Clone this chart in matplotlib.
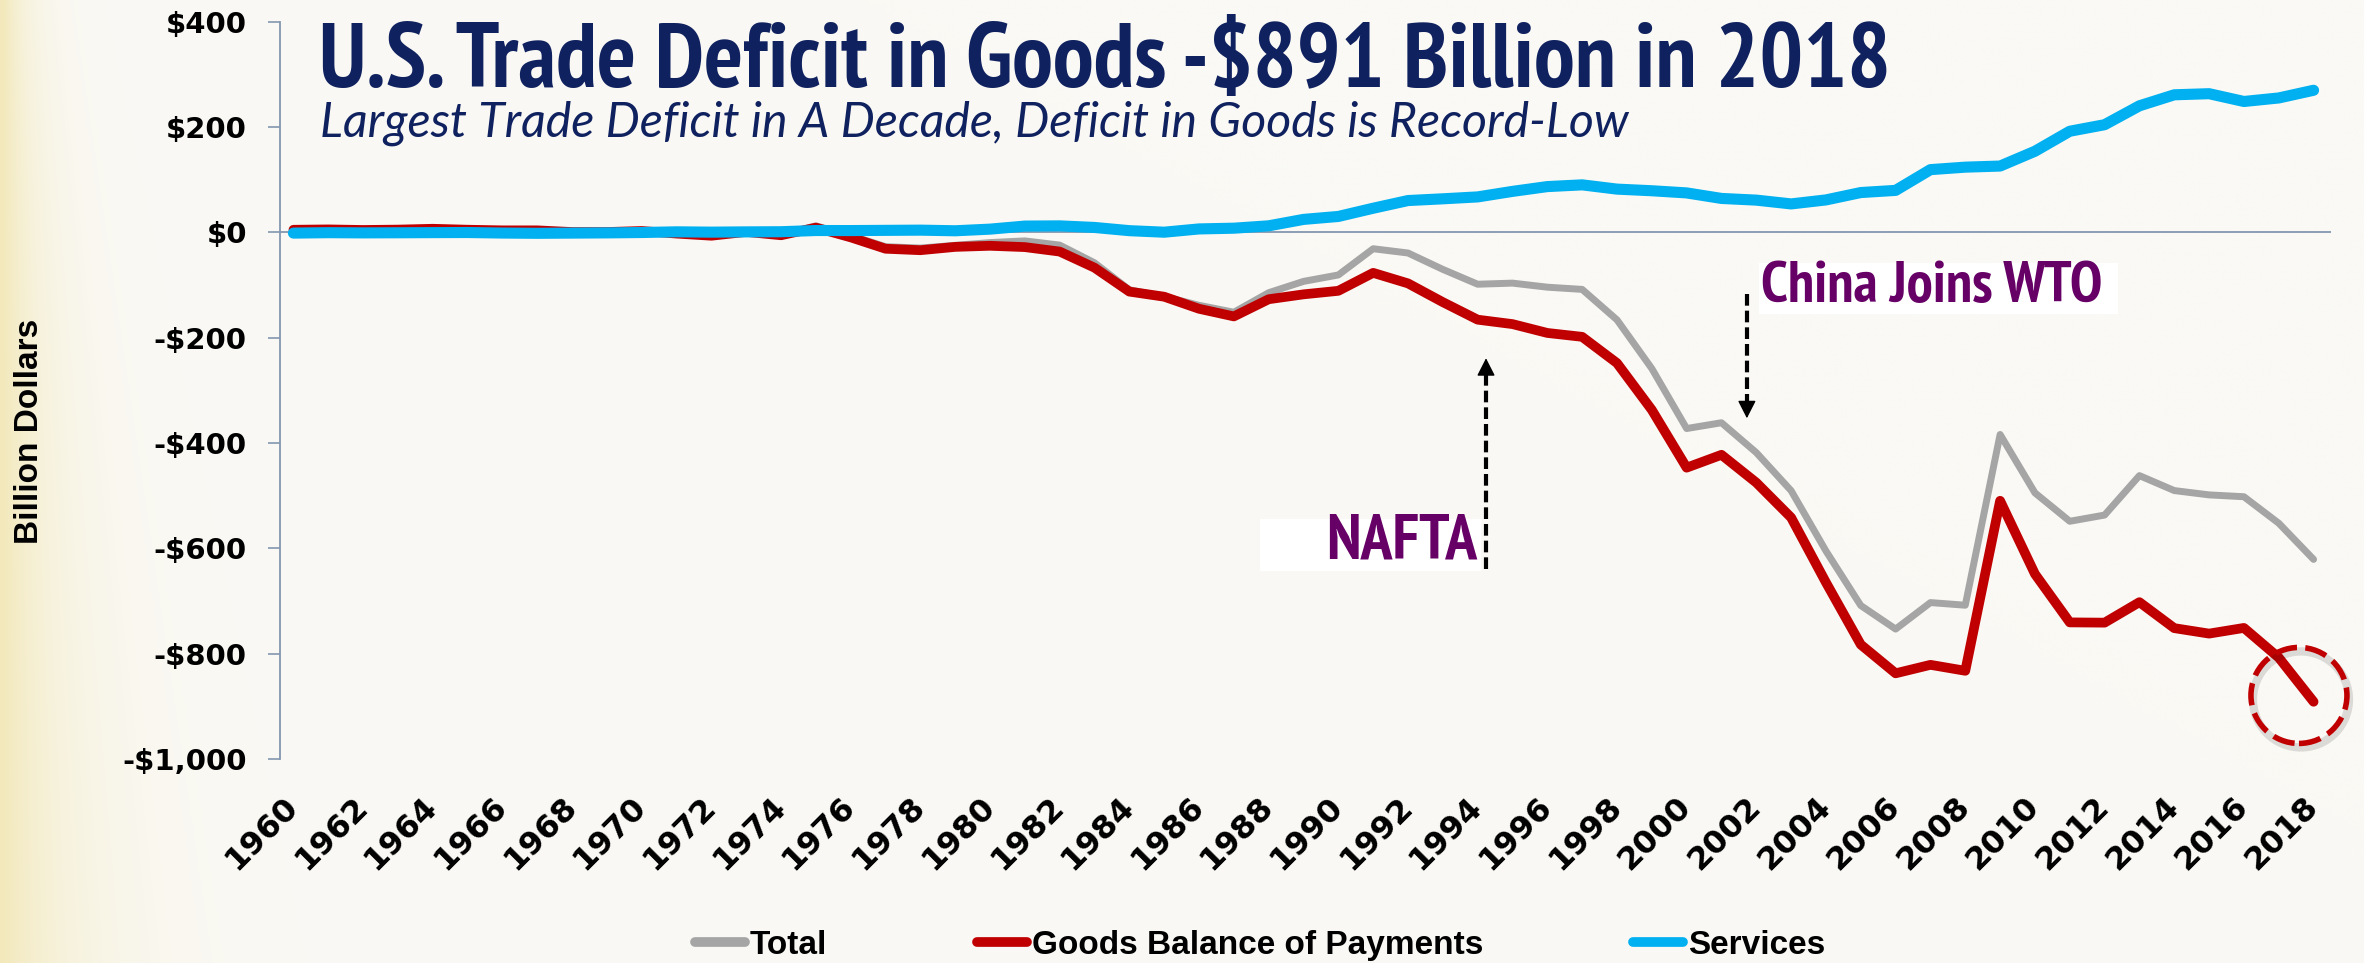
"""
U.S. trade balance 1960-2018: total, goods (BOP basis) and services.
Writes out.png (2364x963).
"""

import matplotlib
matplotlib.use('Agg')
import matplotlib.pyplot as plt
from matplotlib import font_manager as fm
from matplotlib.lines import Line2D
from matplotlib.patches import Ellipse, Rectangle
import numpy as np

# ── data (billion dollars) ────────────────────────────────────────────────
YEARS = list(range(1960, 2019))
GOODS = [4.9, 5.6, 4.5, 5.2, 6.8, 5.0, 3.8, 3.8, 0.6, 0.6,
         2.6, -2.3, -6.4, 0.9, -5.5, 8.9, -9.5, -31.1, -33.9, -27.6,
         -25.5, -28.0, -36.5, -67.1, -112.5, -122.2, -145.1, -159.6, -127.0, -117.7,
         -111.0, -76.9, -96.9, -132.5, -165.8, -174.2, -191.0, -198.4, -248.2, -337.1,
         -446.8, -422.4, -475.2, -541.6, -664.8, -782.8, -837.3, -821.2, -832.5, -509.7,
         -648.7, -740.6, -741.1, -702.2, -751.5, -761.9, -751.1, -807.5, -891.3]
SERVICES = [-1.4, -0.6, -1.0, -0.8, -0.5, -0.3, -1.3, -1.8, -1.4, -1.0,
            -0.3, 1.0, 0.4, 0.9, 1.2, 3.5, 3.4, 3.8, 4.2, 3.0,
            6.1, 11.9, 12.3, 9.3, 3.2, 0.3, 6.5, 7.9, 12.4, 24.6,
            30.2, 45.8, 60.4, 63.7, 67.3, 77.8, 86.9, 90.2, 82.1, 79.0,
            74.9, 64.4, 61.2, 54.0, 61.6, 75.6, 79.7, 119.1, 123.8, 125.9,
            154.0, 192.0, 204.4, 240.3, 261.2, 263.3, 248.5, 255.2, 269.8]
TOTAL = [3.5, 4.4, 3.4, 4.2, 6.8, 4.7, 2.5, 2.6, -0.2, 0.1,
         2.3, -1.3, -5.4, 1.9, -4.3, 12.4, -6.1, -27.2, -29.8, -24.6,
         -19.4, -16.2, -24.2, -57.8, -109.1, -121.9, -138.5, -151.7, -114.6, -93.1,
         -80.9, -31.1, -39.2, -70.3, -98.5, -96.4, -104.1, -108.3, -166.1, -258.6,
         -372.5, -361.5, -418.2, -490.5, -605.0, -708.6, -753.3, -703.0, -708.0, -383.8,
         -494.7, -548.6, -536.8, -461.9, -490.3, -498.5, -502.0, -552.3, -621.0]

TICK_YEARS = list(range(1960, 2019, 2))
Y_TICKS = [-1000, -800, -600, -400, -200, 0, 200, 400]
Y_TICK_LABELS = ['-$1,000', '-$800', '-$600', '-$400', '-$200', '$0', '$200', '$400']
SERIES_LABELS = ['Total', 'Goods Balance of Payments', 'Services']

TITLE = 'U.S. Trade Deficit in Goods -$891 Billion in 2018'
SUBTITLE = 'Largest Trade Deficit in A Decade, Deficit in Goods is Record-Low'

# ── styles ────────────────────────────────────────────────────────────────
BG = '#FAF9F5'
NAVY = '#0F215F'
PURPLE = '#660066'
AXIS_C = '#8497B0'
C_TOTAL, C_GOODS, C_SERV = '#A5A5A5', '#C00000', '#00B0F0'
W, H = 2364, 963


def narrow_bold():
    """First condensed/narrow bold face installed, else Roboto Bold."""
    for key in ('sansnarrow', 'sanscondensed', 'condensed', 'narrow'):
        for f in fm.fontManager.ttflist:
            name = f.fname.lower().replace('-', '').replace('_', '')
            if key in name and f.weight in ('bold', 700) and f.style == 'normal':
                return fm.FontProperties(fname=f.fname)
    return fm.FontProperties(family='Roboto', weight='bold')


NARROW = narrow_bold()

fig = plt.figure(figsize=(W / 100, H / 100), dpi=100, facecolor=BG)

# yellowish paper tint along the left edge
bg = fig.add_axes([0, 0, 1, 1], zorder=-10)
bg.axis('off')
xs = np.linspace(0, W, 300)[None, :]
ys = np.linspace(0, 1, 120)[:, None]          # 0 = top, 1 = bottom
strength = np.exp(-xs / (25 + 50 * ys)) * 0.9
base = np.array([250, 249, 245]) / 255
tint = np.array([242, 231, 182]) / 255
img = base + (tint - base) * strength[..., None]
bg.imshow(img, extent=[0, 1, 0, 1], aspect='auto', interpolation='bilinear')
bg.set_xlim(0, 1)
bg.set_ylim(0, 1)

# ── main axes ─────────────────────────────────────────────────────────────
ax = fig.add_axes([279.5 / W, 1 - 759 / H, (2331 - 279.5) / W, (759 - 21.7) / H])
ax.set_facecolor('none')
ax.set_xlim(1959.6, 2018.5)
ax.set_ylim(-1000, 400)

ax.axhline(0, color=AXIS_C, lw=1.3, zorder=1)
ax.plot(YEARS, TOTAL, color=C_TOTAL, lw=5.0, solid_capstyle='round', zorder=2)
ax.plot(YEARS, GOODS, color=C_GOODS, lw=7.0, solid_capstyle='round', zorder=3)
ax.plot(YEARS, SERVICES, color=C_SERV, lw=8.0, solid_capstyle='round', zorder=4)

for side in ('top', 'right', 'bottom'):
    ax.spines[side].set_visible(False)
ax.spines['left'].set_color(AXIS_C)
ax.spines['left'].set_linewidth(1.3)

ax.set_yticks(Y_TICKS)
ax.set_yticklabels(Y_TICK_LABELS, fontsize=21, fontweight='bold', family='DejaVu Sans')
ax.tick_params(axis='y', length=8.5, width=1.2, color=AXIS_C, pad=15)

ax.set_xticks(TICK_YEARS)
ax.set_xticklabels([str(y) for y in TICK_YEARS], rotation=45, ha='right', va='center',
                   rotation_mode='anchor', fontsize=23, fontweight='bold',
                   family='DejaVu Sans')
ax.tick_params(axis='x', length=0, pad=31)

fig.text(30 / W, 1 - 431 / H, 'Billion Dollars', rotation=90, ha='center', va='center',
         fontsize=24, fontweight='bold', family='Liberation Sans')

# ── titles ────────────────────────────────────────────────────────────────
renderer = fig.canvas.get_renderer()


def fit_width(txt, target_px):
    w = txt.get_window_extent(renderer).width
    txt.set_fontsize(txt.get_fontsize() * target_px / w)


t = fig.text(319 / W, 1 - 87 / H, TITLE, fontproperties=NARROW, fontsize=52,
             color=NAVY, va='baseline')
fit_width(t, 1574)
s = fig.text(320 / W, 1 - 137 / H, SUBTITLE, fontsize=28, style='italic', color=NAVY,
             family=['Lato', 'DejaVu Sans'], va='baseline')
fit_width(s, 1308)

# ── annotations ───────────────────────────────────────────────────────────
def dashed_arrow(x, y_from, y_to):
    step = 30 if y_to > y_from else -30
    ax.plot([x, x], [y_from, y_to - step * 0.6], color='black', lw=3,
            ls=(0, (2.8, 1.2)), zorder=5)
    ax.annotate('', xy=(x, y_to), xytext=(x, y_to - step),
                arrowprops=dict(arrowstyle='-|>,head_length=0.55,head_width=0.28',
                                color='black', lw=1, mutation_scale=20,
                                shrinkA=0, shrinkB=0), zorder=5)


ax.add_patch(Rectangle((1987.75, -643), 6.35, 98.5, facecolor='white',
                       edgecolor='none', zorder=5))
nafta = ax.text(1994.0, -619, 'NAFTA', ha='right', va='baseline', fontproperties=NARROW,
                fontsize=36, color=PURPLE, zorder=6)
fit_width(nafta, 151)
dashed_arrow(1994.24, -639, -239)

ax.add_patch(Rectangle((2002.08, -155), 10.3, 97, facecolor='white',
                       edgecolor='none', zorder=5))
china = ax.text(2002.13, -132, 'China Joins WTO', ha='left', va='baseline',
                fontproperties=NARROW, fontsize=35, color=PURPLE, zorder=6)
fit_width(china, 342)
dashed_arrow(2001.73, -117, -353)

# dashed ring round the 2018 goods value
x0, y0 = ax.transData.transform((0, 0))
x1, y1 = ax.transData.transform((1, 1))
px_per_year, px_per_unit = x1 - x0, y1 - y0
r_px = 48
cx, cy = YEARS[-1] - 0.42, GOODS[-1] + 12
ax.add_patch(Ellipse((cx + 2 / px_per_year, cy - 4 / px_per_unit),
                     2 * r_px / px_per_year, 2 * r_px / px_per_unit,
                     fill=False, edgecolor='#000000', alpha=0.12, lw=6, zorder=5,
                     clip_on=False))
ax.add_patch(Ellipse((cx, cy), 2 * r_px / px_per_year, 2 * r_px / px_per_unit,
                     fill=False, edgecolor=C_GOODS, lw=4, ls=(0, (4, 1.5)), zorder=6,
                     clip_on=False))

# ── legend ────────────────────────────────────────────────────────────────
handles = [Line2D([], [], color=c, lw=7, solid_capstyle='round')
           for c in (C_TOTAL, C_GOODS, C_SERV)]
fig.legend(handles, SERIES_LABELS, loc='center', bbox_to_anchor=(1260 / W, 1 - 945 / H),
           ncol=3, frameon=False, handlelength=1.5, handletextpad=0.15,
           columnspacing=4.5, borderpad=0, borderaxespad=0,
           prop=dict(family='Liberation Sans', weight='bold', size=24))

fig.savefig('out.png', dpi=100, facecolor=BG)
